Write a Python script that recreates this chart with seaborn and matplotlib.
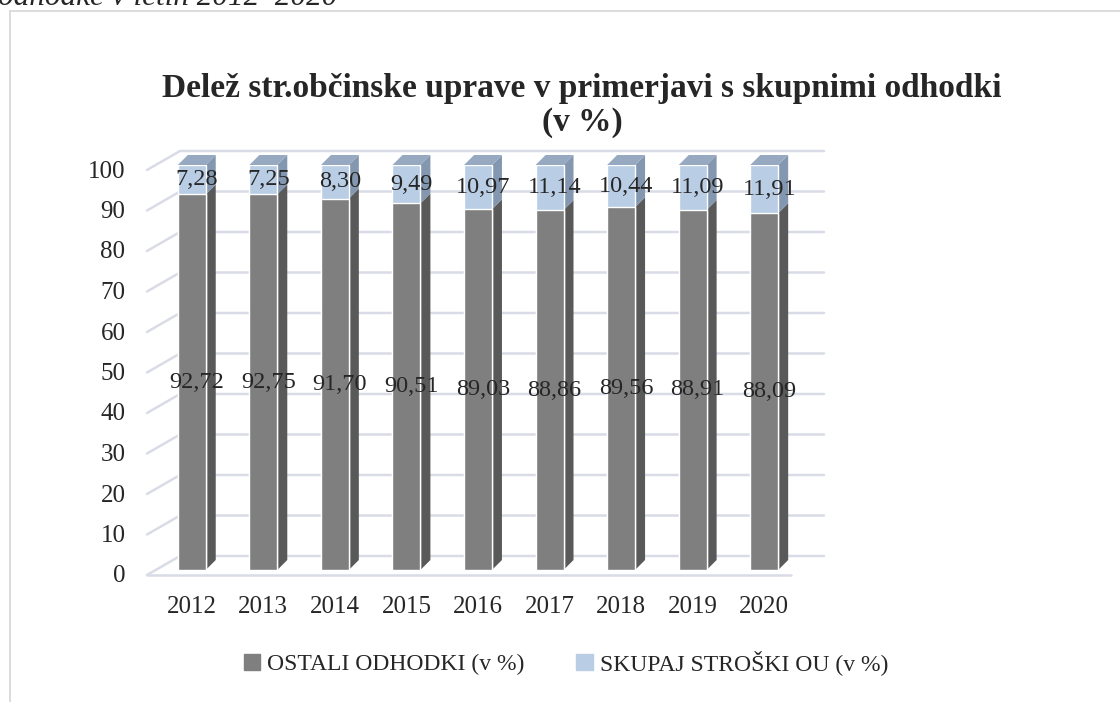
import pandas as pd
import matplotlib.pyplot as plt
import matplotlib.transforms as mtransforms
import matplotlib.patches as mpatches
from matplotlib.lines import Line2D
import seaborn as sns

# --- data ---
years = ["2012", "2013", "2014", "2015", "2016", "2017", "2018", "2019", "2020"]
ostali = [92.72, 92.75, 91.70, 90.51, 89.03, 88.86, 89.56, 88.91, 88.09]
stroski = [7.28, 7.25, 8.30, 9.49, 10.97, 11.14, 10.44, 11.09, 11.91]
yticks = list(range(0, 101, 10))

series_names = ["OSTALI ODHODKI (v %)", "SKUPAJ STROŠKI OU (v %)"]
title = "Delež str.občinske uprave v primerjavi s skupnimi odhodki\n(v %)"
caption = "odhodke v letih 2012–2020"

df = pd.DataFrame({"leto": years, "ostali": ostali, "stroski": stroski})
df["skupaj"] = df["ostali"] + df["stroski"]

grey_front, grey_side = "#7f7f7f", "#595959"
blue_front, blue_side, blue_top = "#b9cde5", "#8497b0", "#97a9c1"
grid_col = "#d9dce6"

sns.set_style("white")
plt.rcParams["font.family"] = ["Liberation Serif", "DejaVu Serif"]

fig = plt.figure(figsize=(11.2, 7.02), dpi=100)
W, H = 1120, 702
ax = fig.add_axes([156 / W, 1 - 570 / H, 644 / W, 405 / H])

bar_w = 0.39
sns.barplot(data=df, x="leto", y="skupaj", color=blue_front, width=bar_w,
            saturation=1, ax=ax, zorder=3)
sns.barplot(data=df, x="leto", y="ostali", color=grey_front, width=bar_w,
            saturation=1, ax=ax, zorder=3)
ax.set_xlim(-0.5, 8.5)
ax.set_ylim(0, 100)
ax.set_yticks(yticks)
ax.set_xlabel("")
ax.set_ylabel("")
sns.despine(ax=ax, left=True, bottom=True)
ax.tick_params(axis="y", length=0, pad=22, labelsize=18)
ax.tick_params(axis="x", length=0, pad=19, labelsize=18)
shift = mtransforms.ScaledTranslation(0, -4 / 100, fig.dpi_scale_trans)
for lab in ax.get_yticklabels():
    lab.set_transform(lab.get_transform() + shift)

# --- fake 3D: floor / back wall gridlines ---
ident = mtransforms.IdentityTransform()
front_off = (-9, -5)
back_off = (24, 14)
depth = (10, 10)


def to_px(x, y, off=(0, 0)):
    px, py = ax.transData.transform((x, y))
    return px + off[0], py + off[1]


x0, x1 = ax.get_xlim()
for y in yticks:
    a = to_px(x0, y, front_off)
    b = to_px(x0, y, back_off)
    c = to_px(x1, y, back_off)
    ax.add_line(Line2D([a[0], b[0], c[0]], [a[1], b[1], c[1]], color=grid_col,
                       lw=1.8, transform=ident, clip_on=False, zorder=0))
fa = to_px(x0, 0, front_off)
fb = to_px(x1, 0, front_off)
ax.add_line(Line2D([fa[0], fb[0]], [fa[1], fb[1]], color=grid_col, lw=1.8,
                   transform=ident, clip_on=False, zorder=0))

# side and top faces of the columns
for i, row in df.iterrows():
    xl, xr = i - bar_w / 2, i + bar_w / 2
    segs = [(0, row["ostali"], grey_side), (row["ostali"], row["skupaj"], blue_side)]
    for lo, hi, col in segs:
        p1, p2 = to_px(xr, lo), to_px(xr, hi)
        poly = [p1, p2, (p2[0] + depth[0], p2[1] + depth[1]),
                (p1[0] + depth[0], p1[1] + depth[1])]
        ax.add_patch(mpatches.Polygon(poly, closed=True, fc=col, ec="none",
                                      transform=ident, clip_on=False, zorder=2))
    q1, q2 = to_px(xl, row["skupaj"]), to_px(xr, row["skupaj"])
    top = [q1, q2, (q2[0] + depth[0], q2[1] + depth[1]),
           (q1[0] + depth[0], q1[1] + depth[1])]
    ax.add_patch(mpatches.Polygon(top, closed=True, fc=blue_top, ec="none",
                                  transform=ident, clip_on=False, zorder=2))

# data labels
lab_tr = mtransforms.offset_copy(ax.transData, fig=fig, x=5, y=0, units="dots")
for i, row in df.iterrows():
    ax.text(i, row["ostali"] / 2, f"{row['ostali']:.2f}".replace(".", ","),
            ha="center", va="center", fontsize=17.5, transform=lab_tr, zorder=5)
    ax.text(i, row["ostali"] + row["stroski"] / 2,
            f"{row['stroski']:.2f}".replace(".", ","),
            ha="center", va="center", fontsize=17.5, transform=lab_tr, zorder=5)

# title, legend, frame
fig.text(582 / W, 1 - 73 / H, title, ha="center", va="top", fontsize=24,
         fontweight="bold", linespacing=1.1)
handles = [mpatches.Patch(color=grey_front, label=series_names[0]),
           mpatches.Patch(color=blue_front, label=series_names[1])]
fig.legend(handles=handles, loc="center", bbox_to_anchor=(566 / W, 1 - 663 / H),
           ncol=2, frameon=False, fontsize=17, handlelength=0.7,
           handleheight=0.7, handletextpad=0.3, columnspacing=2.2)

fig.add_artist(Line2D([10 / W, 1.02], [1 - 11 / H] * 2, transform=fig.transFigure,
                      color="#d9d9d9", lw=1.3))
fig.add_artist(Line2D([10 / W] * 2, [1 - 11 / H, -0.02], transform=fig.transFigure,
                      color="#d9d9d9", lw=1.3))
fig.text(-2 / W, 1 - 5 / H, caption, ha="left", va="baseline", fontsize=22.5,
         style="italic")

fig.savefig("out.png", dpi=100)
